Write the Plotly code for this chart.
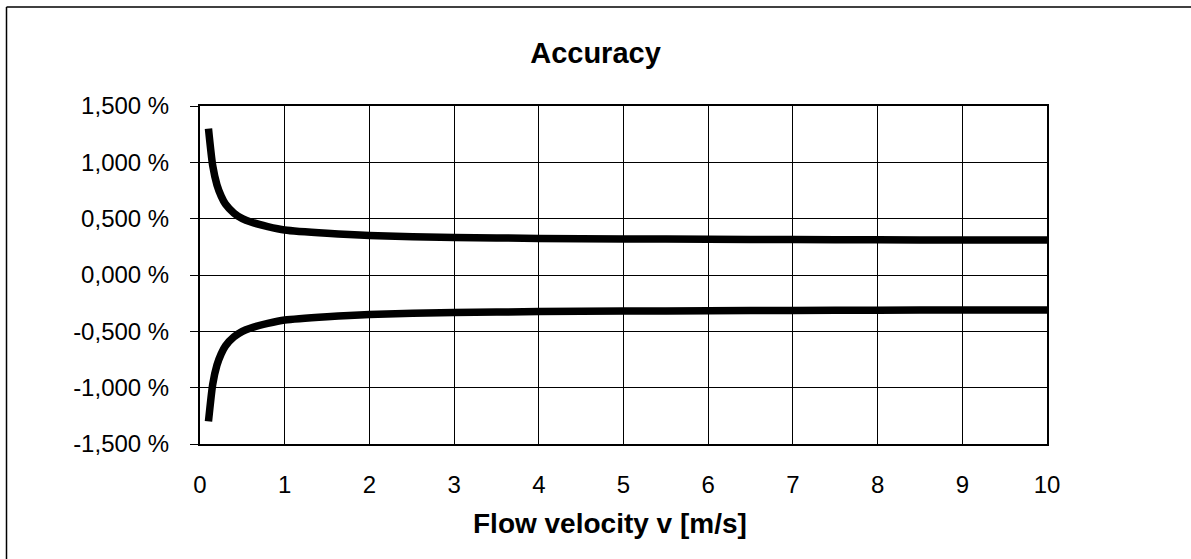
import plotly.graph_objects as go

# Flow velocity v [m/s]
velocity = [0.1, 0.15, 0.2, 0.25, 0.3, 0.4, 0.5, 0.6, 0.8, 1.0, 1.5, 2.0, 3.0, 4.0, 5.0, 6.0, 7.0, 8.0, 9.0, 10.0]
# Accuracy limits [%]
upper_limit = [1.30, 0.97, 0.80, 0.70, 0.63, 0.55, 0.50, 0.47, 0.43, 0.40, 0.37, 0.35, 0.333, 0.325, 0.32, 0.317, 0.314, 0.312, 0.311, 0.31]
lower_limit = [-1.30, -0.97, -0.80, -0.70, -0.63, -0.55, -0.50, -0.47, -0.43, -0.40, -0.37, -0.35, -0.333, -0.325, -0.32, -0.317, -0.314, -0.312, -0.311, -0.31]

y_ticks = [-1.5, -1.0, -0.5, 0.0, 0.5, 1.0, 1.5]
y_tick_labels = ["-1,500 %", "-1,000 %", "-0,500 %", "0,000 %", "0,500 %", "1,000 %", "1,500 %"]
x_ticks = [0, 1, 2, 3, 4, 5, 6, 7, 8, 9, 10]
x_tick_labels = ["0", "1", "2", "3", "4", "5", "6", "7", "8", "9", "10"]

FONT = "Liberation Sans, Arial, sans-serif"

fig = go.Figure()
for ys in (upper_limit, lower_limit):
    fig.add_trace(go.Scatter(
        x=velocity, y=ys, mode="lines",
        line=dict(color="black", width=7.5, shape="spline", smoothing=0.6),
        showlegend=False, hoverinfo="skip",
    ))

W, H = 1191, 559
L, R, T, B = 200, 144, 106, 115
pw, ph = W - L - R, H - T - B

def px(xpix):
    return (xpix - L) / pw

def py(ypix):
    return (H - B - ypix) / ph

fig.update_layout(
    width=W, height=H,
    margin=dict(l=L, r=R, t=T, b=B),
    paper_bgcolor="white", plot_bgcolor="white",
    font=dict(family=FONT, color="black", size=24),
    title=dict(text="<b>Accuracy</b>", x=0.5, xref="container", xanchor="center",
               y=1 - 53 / H, yref="container", yanchor="middle",
               font=dict(family=FONT, size=29, color="black")),
    xaxis=dict(range=[0, 10], tickvals=x_ticks, ticktext=x_tick_labels,
               showgrid=True, gridcolor="black", gridwidth=1,
               showline=True, linecolor="black", linewidth=2, mirror=True, ticks="",
               zeroline=False, ticklabelstandoff=18,
               tickfont=dict(family=FONT, size=24, color="black")),
    yaxis=dict(range=[-1.5, 1.5], tickvals=y_ticks, ticktext=y_tick_labels,
               showgrid=True, gridcolor="black", gridwidth=1,
               showline=True, linecolor="black", linewidth=2, mirror=True,
               ticks="outside", ticklen=8, tickcolor="black", tickwidth=1,
               zeroline=False, ticklabelstandoff=16,
               tickfont=dict(family=FONT, size=24, color="black")),
    annotations=[dict(text="<b>Flow velocity v [m/s]</b>", xref="paper", yref="paper",
                      x=px(610), y=py(523), xanchor="center", yanchor="middle",
                      showarrow=False, font=dict(family=FONT, size=28, color="black"))],
    shapes=[
        dict(type="line", xref="paper", yref="paper", x0=px(6.5), x1=px(W + 5), y0=py(7), y1=py(7),
             line=dict(color="black", width=1.5)),
        dict(type="line", xref="paper", yref="paper", x0=px(6.5), x1=px(6.5), y0=py(7), y1=py(H + 5),
             line=dict(color="black", width=1.5)),
    ],
)

fig.write_html("out.html", config={"displayModeBar": False},
               post_script="document.body.style.margin='0';")
